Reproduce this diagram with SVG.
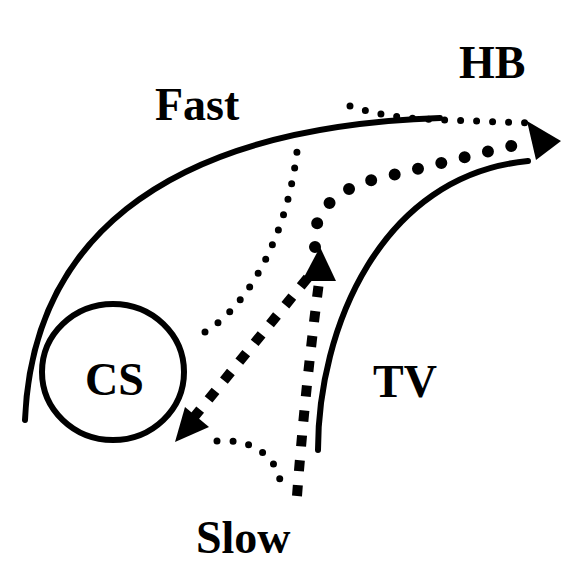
<svg xmlns="http://www.w3.org/2000/svg" width="562" height="563" viewBox="0 0 562 563">
<style>
.lbl{font-family:"Liberation Serif","Times New Roman",serif;font-weight:bold;font-size:46px;fill:#000}
.solid{fill:none;stroke:#000;stroke-width:6;stroke-linecap:round}
.dot{fill:none;stroke:#000;stroke-width:7;stroke-linecap:round;stroke-dasharray:0 16}
.bigdot{fill:none;stroke:#000;stroke-width:12;stroke-linecap:round;stroke-dasharray:0 24}
.sq{fill:none;stroke:#000;stroke-width:10;stroke-linecap:butt}
.head{fill:#000}
</style>
<rect width="562" height="563" fill="#fff"/>
<g id="connectors">
<path class="dot" d="M 350 106 Q 380 116 420 119 L 528 123"/>
<path class="dot" d="M 205 332 C 250 305 290 230 298 142"/>
<path class="dot" d="M 217 441 C 250 438 275 455 280 480"/>
<path class="bigdot" d="M 315 247 Q 310 195 380 178 L 515 145"/>
<path class="sq" stroke-dasharray="11 14" d="M 297 496 Q 305 390 319 282"/>
<path class="sq" stroke-dasharray="11 13.3" d="M 193.2 418.2 L 310 275"/>
<polygon class="head" points="527,121 561,141 536,160"/>
<polygon class="head" points="302,281 320,247 336,281"/>
<polygon class="head" points="175,442 185,407 209,427"/>
</g>
<g id="fast-path">
<path class="solid" d="M 25 420 C 32 250 150 128 440 118"/>
</g>
<g id="tv">
<path class="solid" d="M 318 450 C 318 330 380 175 528 161"/>
<text class="lbl" x="373" y="397">TV</text>
</g>
<g id="cs">
<ellipse cx="113" cy="372" rx="71" ry="68" fill="none" stroke="#000" stroke-width="6"/>
<text class="lbl" x="85" y="395">CS</text>
</g>
<g id="hb"><text class="lbl" x="459" y="78" font-size="44">HB</text></g>
<g id="fast"><text class="lbl" x="155" y="120">Fast</text></g>
<g id="slow"><text class="lbl" x="196" y="553" font-size="44">Slow</text></g>
</svg>
